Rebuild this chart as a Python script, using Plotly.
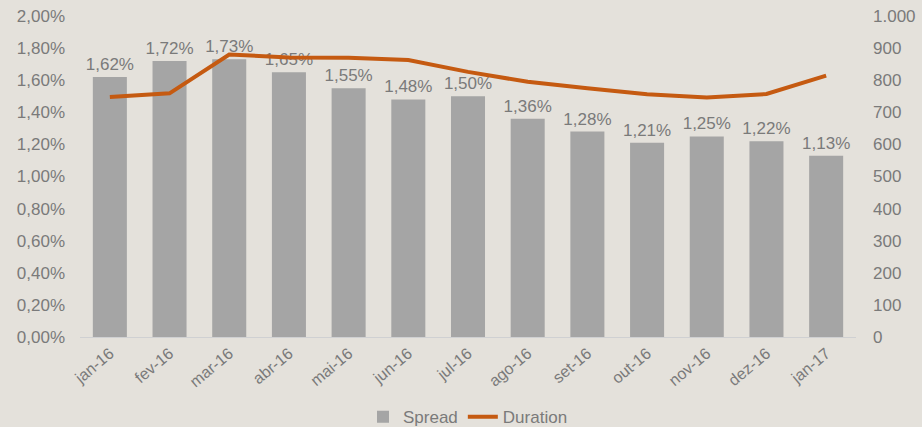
import plotly.graph_objects as go

months = ["jan-16", "fev-16", "mar-16", "abr-16", "mai-16", "jun-16", "jul-16",
          "ago-16", "set-16", "out-16", "nov-16", "dez-16", "jan-17"]
spread = [0.0162, 0.0172, 0.0173, 0.0165, 0.0155, 0.0148, 0.0150,
          0.0136, 0.0128, 0.0121, 0.0125, 0.0122, 0.0113]
duration = [748, 759, 880, 871, 870, 863, 826, 795, 775, 756, 746, 757, 814]

txt = "#7a7a7a"
font = "Liberation Sans, Arial, sans-serif"

fig = go.Figure()
fig.add_trace(go.Bar(
    x=months, y=spread, name="Spread",
    marker=dict(color="#a5a5a5", line=dict(width=0)),
    width=0.57,
    texttemplate="%{y:.2%}", textposition="outside", constraintext="none",
    textfont=dict(color=txt, size=17, family=font),
    cliponaxis=False,
))
fig.add_trace(go.Scatter(
    x=months, y=duration, name="Duration", yaxis="y2",
    mode="lines", line=dict(color="#c55a11", width=4),
))

fig.update_layout(
    width=922, height=427,
    margin=dict(l=80, r=66, t=16, b=90, autoexpand=False),
    paper_bgcolor="#e4e1db", plot_bgcolor="#e4e1db",
    separators=",.",
    font=dict(family=font, color=txt, size=17),
    showlegend=True,
    legend=dict(orientation="h", x=0.5, xanchor="center", y=-0.25, yanchor="middle",
                font=dict(size=17, color=txt), traceorder="normal", bgcolor="rgba(0,0,0,0)"),
    xaxis=dict(tickangle=-40, showgrid=False, showline=True, linecolor="#cfd0d2", linewidth=1,
               ticks="", tickfont=dict(size=16, color=txt), automargin=False),
    yaxis=dict(range=[0, 0.02], dtick=0.002, tickformat=".2%", showgrid=False, zeroline=False,
               ticklabelstandoff=14, tickfont=dict(size=17, color=txt), automargin=False),
    yaxis2=dict(range=[0, 1000], dtick=100, tickformat=",.0f", overlaying="y", side="right",
                showgrid=False, zeroline=False, ticklabelstandoff=16,
                tickfont=dict(size=17, color=txt), automargin=False),
    bargap=0.43,
)

fig.write_html("out.html", config={"displayModeBar": False},
               post_script="document.body.style.margin='0';document.body.style.background='#e4e1db';")
